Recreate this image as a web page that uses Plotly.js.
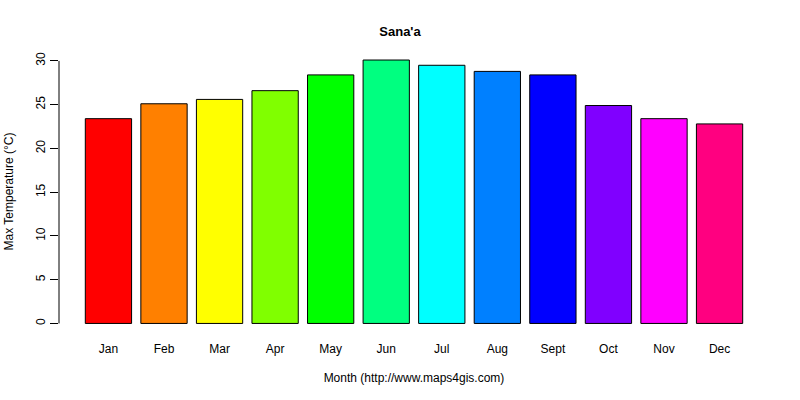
<!DOCTYPE html>
<html>
<head>
<meta charset="utf-8">
<script src="https://cdn.plot.ly/plotly-3.0.1.min.js"></script>
<style>
  html, body { margin: 0; padding: 0; background: #fff; }
  #chart { width: 800px; height: 400px; }
</style>
</head>
<body>
<div id="chart"></div>
<script>
// Monthly max temperature for Sana'a
const months = ["Jan", "Feb", "Mar", "Apr", "May", "Jun", "Jul", "Aug", "Sept", "Oct", "Nov", "Dec"];
const maxTemp = [23.4, 25.1, 25.6, 26.6, 28.4, 30.1, 29.5, 28.8, 28.4, 24.9, 23.4, 22.8];
const barColors = ["#FF0000", "#FF8000", "#FFFF00", "#80FF00", "#00FF00", "#00FF80",
	"#00FFFF", "#0080FF", "#0000FF", "#8000FF", "#FF00FF", "#FF0080"];
const yTicks = [0, 5, 10, 15, 20, 25, 30];

const font = "Liberation Sans, Arial, sans-serif";

const data = [
	{
		x: months,
		y: maxTemp,
		type: "bar",
		marker: {
			color: barColors,
			line: { color: "#000", width: 1 },
		},
		hoverinfo: "x+y",
	},
];

const layout = {
	width: 800,
	height: 400,
	paper_bgcolor: "#fff",
	plot_bgcolor: "#fff",
	font: { family: font, size: 12, color: "#000" },
	margin: { l: 59, r: 31, t: 49, b: 66 },
	bargap: 0.1667,
	showlegend: false,
	title: {
		text: "<b>Sana'a</b>",
		font: { family: font, size: 13, color: "#000" },
		x: 0.5,
		xanchor: "center",
		y: 1 - 31 / 400,
		yanchor: "middle",
	},
	xaxis: {
		type: "category",
		range: [-0.89, 11.89],
		showgrid: false,
		zeroline: false,
		showline: false,
		ticks: "",
		ticklabelstandoff: 6,
		tickfont: { size: 12 },
		fixedrange: true,
		title: {
			text: "Month (http://www.maps4gis.com)",
			font: { size: 12 },
			standoff: 18,
		},
	},
	yaxis: {
		range: [-1.206, 31.36],
		showgrid: false,
		zeroline: false,
		showline: false,
		tickmode: "array",
		tickvals: yTicks,
		ticktext: yTicks.map(String),
		ticks: "outside",
		ticklen: 8,
		tickwidth: 1,
		tickcolor: "#000",
		tickangle: -90,
		tickfont: { size: 12 },
		fixedrange: true,
		title: {
			text: "Max Temperature (°C)",
			font: { size: 12 },
			standoff: 18,
		},
	},
	shapes: [
		{
			// R style axis line, only across the tick range
			type: "line",
			xref: "paper",
			yref: "y",
			x0: 0,
			x1: 0,
			y0: yTicks[0],
			y1: yTicks[yTicks.length - 1],
			line: { color: "#000", width: 1 },
		},
	],
};

const config = { displayModeBar: false, staticPlot: false };

Plotly.newPlot("chart", data, layout, config);
</script>
</body>
</html>
